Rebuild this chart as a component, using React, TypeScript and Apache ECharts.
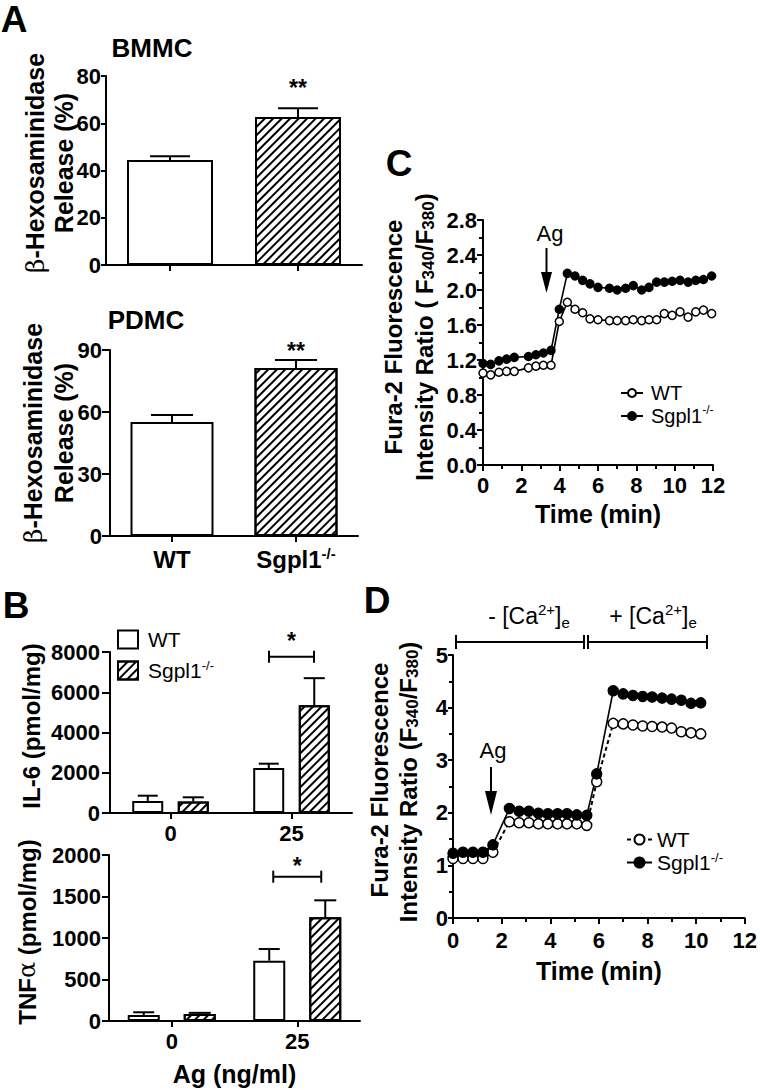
import React, { useEffect, useRef } from 'react';
import * as echarts from 'echarts';

// ---------------- data ----------------
// Panel A
const genotypes = ['WT', 'Sgpl1-/-'];
const bmmcTicks = [0, 20, 40, 60, 80];
const bmmcMean = [44.4, 62.6];
const bmmcSem = [1.6, 3.8];
const bmmcStarAt = 75;
const pdmcTicks = [0, 30, 60, 90];
const pdmcMean = [55.2, 81.3];
const pdmcSem = [3.3, 3.9];
const pdmcStarAt = 89.4;

// Panel B
const doses = ['0', '25'];
const il6Ticks = [0, 2000, 4000, 6000, 8000];
const il6WT = [600, 2230];
const il6WTSem = [260, 220];
const il6Sg = [570, 5350];
const il6SgSem = [210, 1350];
const il6BracketAt = 7766;
const tnfTicks = [0, 500, 1000, 1500, 2000];
const tnfWT = [72, 727];
const tnfWTSem = [33, 140];
const tnfSg = [84, 1249];
const tnfSgSem = [14, 205];
const tnfBracketAt = 1739;

// Panel C
const cTicksX = [0, 2, 4, 6, 8, 10, 12];
const cTicksY = [0, 0.4, 0.8, 1.2, 1.6, 2.0, 2.4, 2.8];
const cTime = [0, 0.4, 0.83, 1.23, 1.63, 2.37, 2.76, 3.15, 3.55, 3.98, 4.4, 4.8, 5.2, 5.58, 6.0, 6.6, 7.0, 7.44, 7.84, 8.28, 8.66, 9.06, 9.46, 9.87, 10.28, 10.7, 11.1, 11.5, 11.93];
const cWT = [1.05, 1.03, 1.06, 1.07, 1.07, 1.11, 1.13, 1.14, 1.14, 1.64, 1.86, 1.78, 1.74, 1.67, 1.66, 1.65, 1.65, 1.65, 1.66, 1.65, 1.66, 1.66, 1.73, 1.71, 1.75, 1.69, 1.75, 1.77, 1.73];
const cSg = [1.16, 1.15, 1.19, 1.21, 1.23, 1.24, 1.26, 1.28, 1.31, 1.78, 2.19, 2.16, 2.11, 2.07, 2.03, 2.02, 2.0, 2.02, 2.05, 2.0, 2.03, 2.09, 2.09, 2.1, 2.11, 2.09, 2.11, 2.12, 2.16];

// Panel D
const dTicksX = [0, 2, 4, 6, 8, 10, 12];
const dTicksY = [0, 1, 2, 3, 4, 5];
const dTime = [0, 0.41, 0.82, 1.23, 1.64, 2.32, 2.72, 3.12, 3.51, 3.9, 4.3, 4.69, 5.09, 5.5, 5.91, 6.59, 7.0, 7.4, 7.8, 8.19, 8.6, 8.99, 9.39, 9.79, 10.19];
const dWT = [1.13, 1.13, 1.13, 1.13, 1.25, 1.83, 1.81, 1.81, 1.79, 1.79, 1.79, 1.79, 1.79, 1.76, 2.59, 3.7, 3.69, 3.67, 3.65, 3.64, 3.63, 3.61, 3.54, 3.52, 3.5];
const dSg = [1.23, 1.25, 1.25, 1.25, 1.39, 2.08, 2.03, 2.03, 1.99, 1.98, 1.98, 1.98, 1.96, 1.95, 2.74, 4.32, 4.26, 4.23, 4.21, 4.2, 4.18, 4.16, 4.14, 4.08, 4.09];

// ---------------- styles ----------------
const FONT = '"Liberation Sans", Arial, Helvetica, sans-serif';
const SERIF = '"DejaVu Serif", "Liberation Serif", serif';
const BLACK = '#000';
const TICK_FS = 22;

const hatch: any = {
  symbol: 'rect',
  symbolSize: 1,
  color: BLACK,
  dashArrayX: [1, 0],
  dashArrayY: [1.6, 3.4],
  rotation: -Math.PI / 4,
};

const rng = (t: number[]) => ({ min: t[0], max: t[t.length - 1], interval: t[1] - t[0] });

function valueY(grid: number, ticks: number[], margin: number, tickLen: number, minor = false, fmt?: (v: number) => string) {
  return {
    type: 'value',
    gridIndex: grid,
    ...rng(ticks),
    axisLine: { show: true, lineStyle: { color: BLACK, width: 2 } },
    axisTick: { show: true, length: tickLen, lineStyle: { color: BLACK, width: 2 } },
    minorTick: { show: minor, splitNumber: 2, length: 4, lineStyle: { color: BLACK, width: 2 } },
    axisLabel: {
      color: BLACK,
      fontSize: TICK_FS,
      fontWeight: 'bold',
      fontFamily: FONT,
      margin,
      formatter: fmt || ((v: number) => String(v)),
    },
    splitLine: { show: false },
  };
}

const supRich = (size: number, weight: string, lh: number) => ({
  a: { fontSize: size, fontWeight: weight, fontFamily: FONT, color: BLACK, lineHeight: lh },
  s: { fontSize: Math.round(size * 0.62), fontWeight: weight, fontFamily: FONT, color: BLACK, lineHeight: 14, verticalAlign: 'top' },
});

const supFmt = (v: string) => (v.endsWith('-/-') ? `{a|${v.slice(0, -3)}}{s|-/-}` : `{a|${v}}`);

function catX(grid: number, data: string[], margin: number, showLabel: boolean, rich?: any, extra: any = {}) {
  return {
    type: 'category',
    gridIndex: grid,
    data,
    boundaryGap: true,
    axisLine: { show: true, lineStyle: { color: BLACK, width: 2 } },
    axisTick: { show: true, alignWithLabel: true, length: 6, lineStyle: { color: BLACK, width: 2 } },
    axisLabel: rich
      ? { show: showLabel, margin, formatter: supFmt, rich }
      : { show: showLabel, margin, color: BLACK, fontSize: TICK_FS, fontWeight: 'bold', fontFamily: FONT },
    splitLine: { show: false },
    ...extra,
  };
}

function valueX(grid: number, ticks: number[], margin: number, name: string, nameGap: number) {
  return {
    type: 'value',
    gridIndex: grid,
    ...rng(ticks),
    axisLine: { show: true, onZero: false, lineStyle: { color: BLACK, width: 2 } },
    axisTick: { show: true, length: 6, lineStyle: { color: BLACK, width: 2 } },
    minorTick: { show: true, splitNumber: 2, length: 4, lineStyle: { color: BLACK, width: 2 } },
    axisLabel: { color: BLACK, fontSize: TICK_FS, fontWeight: 'bold', fontFamily: FONT, margin },
    splitLine: { show: false },
    name,
    nameLocation: 'middle',
    nameGap,
    nameTextStyle: { color: BLACK, fontSize: 25, fontWeight: 'bold', fontFamily: FONT },
  };
}

function errorSeries(axis: number, means: number[], sems: number[], offset: number, cap: number) {
  return {
    type: 'custom',
    xAxisIndex: axis,
    yAxisIndex: axis,
    z: 4,
    silent: true,
    clip: false,
    encode: { x: 0, y: 1 },
    data: means.map((m, i) => [i, m, sems[i]]),
    renderItem: (_p: any, api: any) => {
      const i = api.value(0);
      const m = api.value(1);
      const s = api.value(2);
      const b = api.coord([i, m]);
      const t = api.coord([i, m + s]);
      const x = b[0] + offset;
      const st = { stroke: BLACK, lineWidth: 2 };
      return {
        type: 'group',
        children: [
          { type: 'line', shape: { x1: x, y1: b[1], x2: x, y2: t[1] }, style: st },
          { type: 'line', shape: { x1: x - cap, y1: t[1], x2: x + cap, y2: t[1] }, style: st },
        ],
      };
    },
  };
}

function starSeries(axis: number, cat: number, value: number, text: string) {
  return {
    type: 'custom',
    xAxisIndex: axis,
    yAxisIndex: axis,
    z: 5,
    silent: true,
    clip: false,
    encode: { x: 0, y: 1 },
    data: [[cat, value]],
    renderItem: (_p: any, api: any) => {
      const c = api.coord([api.value(0), api.value(1)]);
      return {
        type: 'text',
        x: c[0],
        y: c[1],
        style: { text, fontSize: 23, fontWeight: 'bold', fontFamily: FONT, fill: BLACK, align: 'center', verticalAlign: 'middle' },
      };
    },
  };
}

function bracketSeries(axis: number, cat: number, value: number, half: number, starDy: number) {
  return {
    type: 'custom',
    xAxisIndex: axis,
    yAxisIndex: axis,
    z: 5,
    silent: true,
    clip: false,
    encode: { x: 0, y: 1 },
    data: [[cat, value]],
    renderItem: (_p: any, api: any) => {
      const c = api.coord([api.value(0), api.value(1)]);
      const st = { stroke: BLACK, lineWidth: 2 };
      const x1 = c[0] - half;
      const x2 = c[0] + half;
      const y = c[1];
      return {
        type: 'group',
        children: [
          { type: 'line', shape: { x1, y1: y, x2, y2: y }, style: st },
          { type: 'line', shape: { x1, y1: y - 6, x2: x1, y2: y + 6 }, style: st },
          { type: 'line', shape: { x1: x2, y1: y - 6, x2, y2: y + 6 }, style: st },
          {
            type: 'text',
            x: c[0],
            y: y + starDy,
            style: { text: '*', fontSize: 23, fontWeight: 'bold', fontFamily: FONT, fill: BLACK, align: 'center', verticalAlign: 'middle' },
          },
        ],
      };
    },
  };
}

function lineSeries(name: string, axis: number, t: number[], v: number[], filled: boolean, size: number, dashed: boolean) {
  return {
    type: 'line',
    name,
    xAxisIndex: axis,
    yAxisIndex: axis,
    data: t.map((x, i) => [x, v[i]]),
    symbol: 'circle',
    symbolSize: size,
    clip: false,
    silent: true,
    itemStyle: { color: filled ? BLACK : '#fff', borderColor: BLACK, borderWidth: 1.5 },
    lineStyle: { color: BLACK, width: dashed ? 2 : 1.6, type: dashed ? [4, 3] : 'solid' },
  };
}

// graphic helpers
const mainTok = (size: number, weight = 'bold', lh = 26) => ({ fontSize: size, fontWeight: weight, fontFamily: FONT, fill: BLACK, lineHeight: lh });

function txt(x: number, y: number, text: string, size: number, weight = 'bold', rot = 0, rich?: any) {
  return {
    type: 'text',
    x,
    y,
    rotation: rot,
    silent: true,
    style: { text, fontSize: size, fontWeight: weight, fontFamily: FONT, fill: BLACK, align: 'center', verticalAlign: 'middle', rich },
  };
}

function ln(x1: number, y1: number, x2: number, y2: number) {
  return { type: 'line', silent: true, shape: { x1, y1, x2, y2 }, style: { stroke: BLACK, lineWidth: 2 } };
}

function arrow(x: number, y1: number, headTop: number, y2: number, hw: number) {
  return [
    ln(x, y1, x, headTop + 2),
    { type: 'polygon', silent: true, shape: { points: [[x - hw, headTop], [x + hw, headTop], [x, y2]] }, style: { fill: BLACK } },
  ];
}

const R90 = Math.PI / 2;
const betaRich = {
  b: { fontSize: 25, fontWeight: 'normal', fontFamily: SERIF, fill: BLACK, lineHeight: 26 },
  m: mainTok(25),
};
const fluoRich = {
  m: mainTok(24, 'bold', 26),
  u: { fontSize: 17, fontWeight: 'bold', fontFamily: FONT, fill: BLACK, lineHeight: 14, verticalAlign: 'bottom' },
};
const caRich = {
  m: mainTok(23, 'normal', 28),
  p: { fontSize: 15, fontWeight: 'normal', fontFamily: FONT, fill: BLACK, lineHeight: 20, verticalAlign: 'top' },
  e: { fontSize: 15, fontWeight: 'normal', fontFamily: FONT, fill: BLACK, lineHeight: 8, verticalAlign: 'bottom' },
};

function buildOption(): any {
  const legendFmt = (name: string) => (name.endsWith('SG') ? '{a|Sgpl1}{s|-/-}' : '{a|WT}');
  const legendBase = {
    orient: 'vertical',
    padding: 0,
    selectedMode: false,
    formatter: legendFmt,
  };

  return {
    animation: false,
    backgroundColor: '#fff',
    textStyle: { fontFamily: FONT },
    grid: [
      { left: 106, top: 76, width: 256, height: 189 },
      { left: 110, top: 350, width: 248, height: 186 },
      { left: 110, top: 652, width: 242, height: 161 },
      { left: 109, top: 855, width: 251, height: 166 },
      { left: 483, top: 220, width: 230, height: 245 },
      { left: 453, top: 655, width: 292, height: 263 },
    ],
    xAxis: [
      catX(0, genotypes, 11, false),
      catX(1, genotypes, 10, true, supRich(24, 'bold', 26)),
      catX(2, doses, 9, true),
      catX(3, doses, 9, true, undefined, {
        name: 'Ag (ng/ml)',
        nameLocation: 'middle',
        nameGap: 40,
        nameTextStyle: { color: BLACK, fontSize: 25, fontWeight: 'bold', fontFamily: FONT },
      }),
      valueX(4, cTicksX, 9, 'Time (min)', 36),
      valueX(5, dTicksX, 11, 'Time (min)', 40),
    ],
    yAxis: [
      valueY(0, bmmcTicks, 5, 5),
      valueY(1, pdmcTicks, 8, 8),
      valueY(2, il6Ticks, 10, 8),
      valueY(3, tnfTicks, 8, 7),
      valueY(4, cTicksY, 6, 6, true, (v: number) => v.toFixed(1)),
      valueY(5, dTicksY, 5, 5, true),
    ],
    legend: [
      {
        ...legendBase,
        data: ['B6WT', 'B6SG'],
        left: 117,
        top: 629,
        icon: 'rect',
        itemWidth: 20,
        itemHeight: 18,
        itemGap: 8.5,
        textStyle: {
          rich: {
            a: { fontSize: 21, fontWeight: 'normal', fontFamily: FONT, color: BLACK, lineHeight: 24, padding: [0, 0, 0, 5] },
            s: { fontSize: 13, fontWeight: 'normal', fontFamily: FONT, color: BLACK, lineHeight: 13, verticalAlign: 'top' },
          },
        },
      },
      {
        ...legendBase,
        data: ['CWT', 'CSG'],
        left: 620,
        top: 383,
        itemWidth: 22,
        itemHeight: 10,
        itemGap: 1,
        textStyle: {
          rich: {
            a: { fontSize: 20, fontWeight: 'normal', fontFamily: FONT, color: BLACK, lineHeight: 24, padding: [0, 0, 0, 3] },
            s: { fontSize: 12, fontWeight: 'normal', fontFamily: FONT, color: BLACK, lineHeight: 14, verticalAlign: 'top' },
          },
        },
      },
      {
        ...legendBase,
        data: ['DWT', 'DSG'],
        left: 626,
        top: 829,
        itemWidth: 25,
        itemHeight: 12.5,
        itemGap: 1,
        textStyle: {
          rich: {
            a: { fontSize: 21, fontWeight: 'normal', fontFamily: FONT, color: BLACK, lineHeight: 23 },
            s: { fontSize: 13, fontWeight: 'normal', fontFamily: FONT, color: BLACK, lineHeight: 12, verticalAlign: 'top' },
          },
        },
      },
    ],
    series: [
      // A - BMMC
      {
        type: 'bar',
        xAxisIndex: 0,
        yAxisIndex: 0,
        barWidth: 86,
        silent: true,
        itemStyle: { color: '#fff', borderColor: BLACK, borderWidth: 2 },
        data: bmmcMean.map((v, i) => (i === 1 ? { value: v, itemStyle: { decal: hatch } } : { value: v })),
      },
      errorSeries(0, bmmcMean, bmmcSem, 0, 20),
      starSeries(0, 1, bmmcStarAt, '**'),
      // A - PDMC
      {
        type: 'bar',
        xAxisIndex: 1,
        yAxisIndex: 1,
        barWidth: 83,
        silent: true,
        itemStyle: { color: '#fff', borderColor: BLACK, borderWidth: 2 },
        data: pdmcMean.map((v, i) => (i === 1 ? { value: v, itemStyle: { decal: hatch } } : { value: v })),
      },
      errorSeries(1, pdmcMean, pdmcSem, 0, 21),
      starSeries(1, 1, pdmcStarAt, '**'),
      // B - IL-6
      {
        type: 'bar',
        name: 'B6WT',
        xAxisIndex: 2,
        yAxisIndex: 2,
        barWidth: 31,
        barGap: '47%',
        silent: true,
        itemStyle: { color: '#fff', borderColor: BLACK, borderWidth: 2 },
        data: il6WT,
      },
      {
        type: 'bar',
        name: 'B6SG',
        xAxisIndex: 2,
        yAxisIndex: 2,
        barWidth: 31,
        barGap: '47%',
        silent: true,
        itemStyle: { color: '#fff', borderColor: BLACK, borderWidth: 2, decal: hatch },
        data: il6Sg,
      },
      errorSeries(2, il6WT, il6WTSem, -22.75, 10),
      errorSeries(2, il6Sg, il6SgSem, 22.75, 10.5),
      bracketSeries(2, 1, il6BracketAt, 22.5, -16),
      // B - TNF
      {
        type: 'bar',
        name: 'BTWT',
        xAxisIndex: 3,
        yAxisIndex: 3,
        barWidth: 32,
        barGap: '75%',
        silent: true,
        itemStyle: { color: '#fff', borderColor: BLACK, borderWidth: 2 },
        data: tnfWT,
      },
      {
        type: 'bar',
        name: 'BTSG',
        xAxisIndex: 3,
        yAxisIndex: 3,
        barWidth: 32,
        barGap: '75%',
        silent: true,
        itemStyle: { color: '#fff', borderColor: BLACK, borderWidth: 2, decal: hatch },
        data: tnfSg,
      },
      errorSeries(3, tnfWT, tnfWTSem, -28, 10.5),
      errorSeries(3, tnfSg, tnfSgSem, 28, 11),
      bracketSeries(3, 1, tnfBracketAt, 24, -10.5),
      // C
      lineSeries('CWT', 4, cTime, cWT, false, 8, false),
      lineSeries('CSG', 4, cTime, cSg, true, 8, false),
      // D
      lineSeries('DWT', 5, dTime, dWT, false, 10, true),
      lineSeries('DSG', 5, dTime, dSg, true, 10, false),
    ],
    graphic: {
      elements: [
        // panel letters
        txt(14, 19, 'A', 37),
        txt(16, 605, 'B', 37),
        txt(399, 163, 'C', 37),
        txt(377, 600, 'D', 37),
        // A titles
        txt(152, 48, 'BMMC', 26),
        txt(146, 320, 'PDMC', 26),
        // A y titles
        txt(35, 163, '{b|β}{m|-Hexosaminidase}', 25, 'bold', R90, betaRich),
        txt(64, 163, 'Release (%)', 25, 'bold', R90),
        txt(33, 433, '{b|β}{m|-Hexosaminidase}', 25, 'bold', R90, betaRich),
        txt(64, 433, 'Release (%)', 25, 'bold', R90),
        // B y titles
        txt(31, 726, 'IL-6 (pmol/mg)', 24, 'bold', R90),
        txt(27, 932, '{m|TNF}{b|α}{m| (pmol/mg)}', 24, 'bold', R90, {
          b: { fontSize: 24, fontWeight: 'normal', fontFamily: SERIF, fill: BLACK, lineHeight: 26 },
          m: mainTok(24),
        }),
        // C y titles
        txt(393, 337, 'Fura-2 Fluorescence', 24, 'bold', R90),
        txt(424, 337, '{m|Intensity Ratio ( F}{u|340}{m|/F}{u|380}{m|)}', 24, 'bold', R90, fluoRich),
        // D y titles
        txt(379, 780, 'Fura-2 Fluorescence', 24, 'bold', R90),
        txt(408, 782, '{m|Intensity Ratio (F}{u|340}{m|/F}{u|380}{m|)}', 24, 'bold', R90, fluoRich),
        // Ag arrows
        txt(550, 233, 'Ag', 22, 'normal'),
        ...arrow(546.5, 248, 272, 293, 5.5),
        txt(493, 750, 'Ag', 22, 'normal'),
        ...arrow(491, 767, 791, 815, 6),
        // D Ca brackets
        ln(456, 642, 584, 642),
        ln(456, 635, 456, 649),
        ln(584, 635, 584, 649),
        ln(588, 635, 588, 649),
        ln(588, 642, 707, 642),
        ln(707, 635, 707, 649),
        txt(529, 616, '{m|- [Ca}{p|2+}{m|]}{e|e}', 23, 'normal', 0, caRich),
        txt(653, 616, '{m|+ [Ca}{p|2+}{m|]}{e|e}', 23, 'normal', 0, caRich),
      ],
    },
  };
}

export default function App() {
  const ref = useRef<HTMLDivElement>(null);
  useEffect(() => {
    if (!ref.current) return;
    const chart = echarts.init(ref.current, null, { renderer: 'svg', width: 760, height: 1090 });
    chart.setOption(buildOption());
    return () => chart.dispose();
  }, []);
  return (
    <div
      ref={ref}
      style={{ position: 'absolute', left: 0, top: 0, width: 760, height: 1090, background: '#fff' }}
    />
  );
}
